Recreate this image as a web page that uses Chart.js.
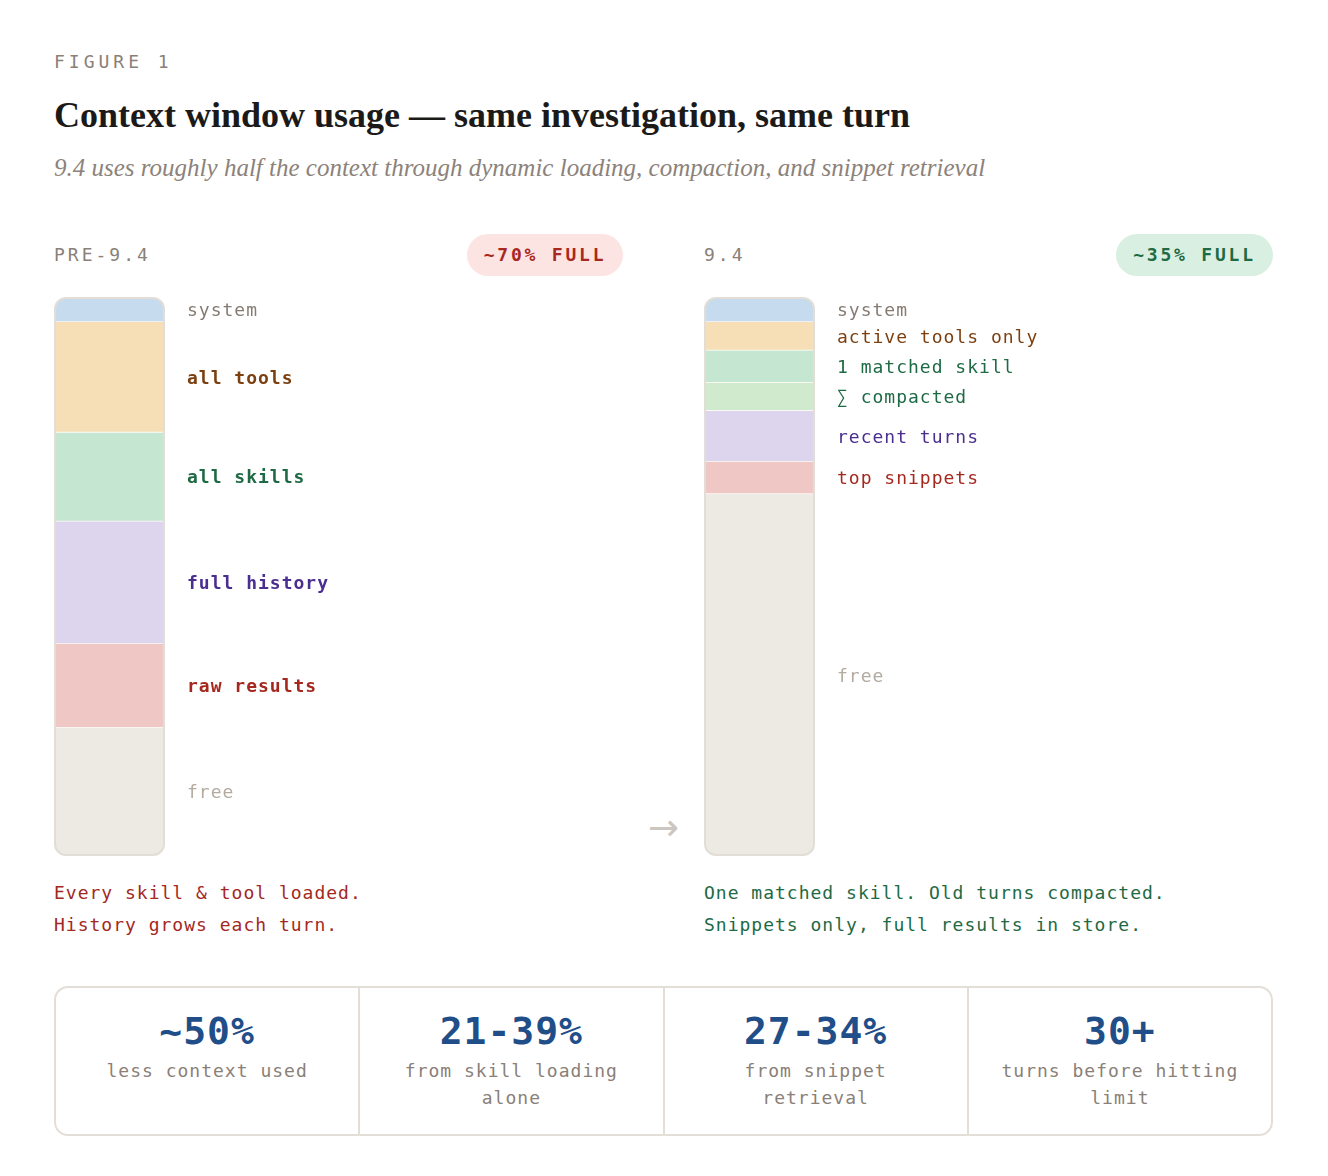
<!DOCTYPE html>
<html>
<head>
<meta charset="utf-8">
<script src="https://cdn.jsdelivr.net/npm/chart.js@4.4.1/dist/chart.umd.min.js"></script>
<style>
  body { margin: 0; background: #fff; width: 1328px; height: 1176px; position: relative; overflow: hidden; }
  .abs { position: absolute; white-space: nowrap; }
  .mono { font-family: "DejaVu Sans Mono", "Liberation Mono", monospace; }
  .kicker { left: 54px; top: 50px; line-height: 24px; font-size: 18px; letter-spacing: 4px; color: #8a8078; }
  .title { left: 54px; top: 95px; line-height: 40px; font-family: "Liberation Serif", serif; font-weight: bold; font-size: 36px; color: #1b1a18; }
  .sub { left: 54px; top: 153px; line-height: 30px; font-family: "Liberation Serif", serif; font-style: italic; font-size: 25px; color: #8c827a; }
  .head { top: 243px; line-height: 24px; font-size: 18px; letter-spacing: 3px; color: #8a8078; }
  .pill { top: 234px; height: 42px; line-height: 42px; border-radius: 21px; text-align: center; font-size: 18px; font-weight: bold; letter-spacing: 2.8px; }
  .cap { font-size: 18px; letter-spacing: 1px; line-height: 32px; }
  .box { position: absolute; left: 54px; top: 986px; width: 1219px; height: 150px; box-sizing: border-box; border: 2px solid #e3ded8; border-radius: 14px; display: flex; }
  .cell { flex: 1; text-align: center; padding-top: 21px; }
  .cell + .cell { border-left: 2px solid #e3ded8; }
  .num { font-size: 38px; font-weight: bold; line-height: 44px; color: #1f4e89; letter-spacing: 1px; margin-bottom: 4px; }
  .lab { font-size: 18px; letter-spacing: 1px; line-height: 27px; color: #8a8078; }
</style>
</head>
<body>
<div class="abs mono kicker">FIGURE 1</div>
<div class="abs title">Context window usage — same investigation, same turn</div>
<div class="abs sub">9.4 uses roughly half the context through dynamic loading, compaction, and snippet retrieval</div>

<div class="abs mono head" style="left:54px">PRE-9.4</div>
<div class="abs mono pill" style="left:467px;width:156px;background:#fce4e2;color:#a8271f">~70% FULL</div>
<div class="abs mono head" style="left:704px">9.4</div>
<div class="abs mono pill" style="left:1116px;width:157px;background:#d9efe1;color:#1e6a44">~35% FULL</div>

<div class="abs" style="left:53px;top:296px;width:560px;height:561px"><canvas id="preChart"></canvas></div>
<div class="abs" style="left:703px;top:296px;width:560px;height:561px"><canvas id="newChart"></canvas></div>
<div class="abs" style="left:648px;top:806px;line-height:44px;font-family:'DejaVu Sans',sans-serif;font-size:37px;color:#cbc6c0">→</div>

<div class="abs mono cap" style="left:54px;top:877px;color:#a3281f">Every skill &amp; tool loaded.<br>History grows each turn.</div>
<div class="abs mono cap" style="left:704px;top:877px;color:#1e6a44">One matched skill. Old turns compacted.<br>Snippets only, full results in store.</div>

<div class="box mono">
  <div class="cell"><div class="num">~50%</div><div class="lab">less context used</div></div>
  <div class="cell"><div class="num">21-39%</div><div class="lab">from skill loading<br>alone</div></div>
  <div class="cell"><div class="num">27-34%</div><div class="lab">from snippet<br>retrieval</div></div>
  <div class="cell"><div class="num">30+</div><div class="lab">turns before hitting<br>limit</div></div>
</div>

<script>
// share of the context window, top of the bar to bottom
const preLabels = ['system', 'all tools', 'all skills', 'full history', 'raw results', 'free']
const preValues = [4.4, 19.8, 15.9, 21.9, 15.0, 23.0]

const newLabels = ['system', 'active tools only', '1 matched skill', '∑ compacted', 'recent turns', 'top snippets', 'free']
const newValues = [4.4, 5.1, 5.8, 5.0, 9.1, 5.8, 64.8]

const preFill = ['#c6dbee', '#f6dfb6', '#c5e7d1', '#ddd4ee', '#efc8c6', '#ede9e3']
const preText = ['#857b72', '#7b3f10', '#1e6a44', '#4a2e90', '#a5281f', '#b3aaa0']
const newFill = ['#c6dbee', '#f6dfb6', '#c5e7d1', '#d0eace', '#ddd4ee', '#efc8c6', '#ede9e3']
const newText = ['#857b72', '#7b3f10', '#1e6a44', '#1e6a44', '#4a2e90', '#a5281f', '#b3aaa0']

const barFrame = {
    id: 'barFrame',
    beforeDatasetsDraw(chart) {
        const a = chart.chartArea
        const ctx = chart.ctx
        ctx.save()
        ctx.beginPath()
        ctx.roundRect(a.left + 1, a.top + 1, a.width - 2, a.height - 2, 11)
        ctx.clip()
    },
    afterDatasetsDraw(chart, args, opts) {
        const a = chart.chartArea
        const ctx = chart.ctx
        ctx.restore()
        ctx.save()
        ctx.beginPath()
        ctx.roundRect(a.left + 1, a.top + 1, a.width - 2, a.height - 2, 11)
        ctx.lineWidth = 2
        ctx.strokeStyle = '#e2ddd6'
        ctx.stroke()

        ctx.textBaseline = 'middle'
        ctx.textAlign = 'left'
        ctx.letterSpacing = '1px'
        chart.data.datasets.forEach((ds, i) => {
            const el = chart.getDatasetMeta(i).data[0]
            const y = (el.y + el.base) / 2
            const bold = opts.boldUsed && i > 0 && i < chart.data.datasets.length - 1
            ctx.font = (bold ? 'bold ' : '') + '18px "DejaVu Sans Mono", monospace'
            ctx.fillStyle = ds.textColor
            ctx.fillText(ds.label, a.right + 22, y + 2)
        })
        ctx.restore()
    }
}

function makeChart(id, labels, values, fills, texts, boldUsed) {
    const datasets = labels.map((name, i) => ({
        label: name,
        data: [values[i]],
        backgroundColor: fills[i],
        borderColor: '#faf8f5',
        borderWidth: { top: 0.75, bottom: 0.75, left: 0, right: 0 },
        borderSkipped: false,
        textColor: texts[i]
    }))

    return new Chart(document.getElementById(id).getContext('2d'), {
        type: 'bar',
        data: { labels: ['context'], datasets: datasets },
        options: {
            responsive: true,
            maintainAspectRatio: false,
            animation: false,
            layout: { padding: { top: 1, bottom: 1, left: 1, right: 448 } },
            datasets: { bar: { barPercentage: 1, categoryPercentage: 1 } },
            scales: {
                x: { stacked: true, display: false },
                y: { stacked: true, display: false, min: 0, max: 100, reverse: true }
            },
            plugins: {
                legend: { display: false },
                tooltip: { enabled: false },
                barFrame: { boldUsed: boldUsed }
            }
        },
        plugins: [barFrame]
    })
}

makeChart('preChart', preLabels, preValues, preFill, preText, true)
makeChart('newChart', newLabels, newValues, newFill, newText, false)
</script>
</body>
</html>
